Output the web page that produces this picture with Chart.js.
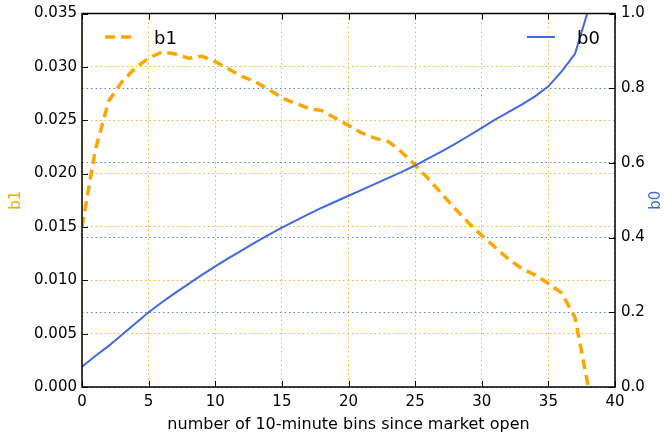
<!DOCTYPE html>
<html>
<head>
<meta charset="utf-8">
<script src="https://cdn.jsdelivr.net/npm/chart.js@4.4.0/dist/chart.umd.min.js"></script>
<style>
  body { margin: 0; background: #fff; }
  canvas { display: block; }
</style>
</head>
<body>
<canvas id="chart" width="664" height="438"></canvas>
<script>
// bins since market open
const bins = [0, 1, 2, 3, 4, 5, 6, 7, 8, 9, 10, 11, 12, 13, 14, 15, 16, 17, 18, 19,
  20, 21, 22, 23, 24, 25, 26, 27, 28, 29, 30, 31, 32, 33, 34, 35, 36, 37, 38];

// b1 (left axis)
const b1 = [0.0150, 0.0222, 0.0268, 0.0286, 0.0299, 0.0308, 0.0314, 0.0312, 0.0308, 0.0310,
  0.0305, 0.0298, 0.0291, 0.0286, 0.0279, 0.0271, 0.0266, 0.0261, 0.0259, 0.0252,
  0.0245, 0.0238, 0.0233, 0.0230, 0.0220, 0.0208, 0.0195, 0.0181, 0.0167, 0.0154,
  0.0142, 0.0131, 0.0120, 0.0111, 0.0105, 0.0097, 0.0088, 0.0065, 0.0000];

// b0 (right axis)
const b0 = [0.054, 0.083, 0.110, 0.140, 0.170, 0.200, 0.227, 0.252, 0.276, 0.300,
  0.323, 0.345, 0.366, 0.387, 0.407, 0.427, 0.445, 0.463, 0.480, 0.496,
  0.512, 0.528, 0.544, 0.560, 0.576, 0.593, 0.612, 0.631, 0.651, 0.672,
  0.694, 0.716, 0.736, 0.756, 0.778, 0.805, 0.845, 0.892, 1.010];

const xTicks = [0, 5, 10, 15, 20, 25, 30, 35, 40];
const b1Ticks = [0, 0.005, 0.010, 0.015, 0.020, 0.025, 0.030, 0.035];
const b0Ticks = [0, 0.2, 0.4, 0.6, 0.8, 1.0];

const ORANGE = '#FFA500';
const BLUE = '#4169E1';
const FONT = 'DejaVu Sans';

// frame, inner ticks, right title and the two legends
const extras = {
  id: 'extras',
  afterDraw(chart) {
    const ctx = chart.ctx;
    const a = chart.chartArea;
    const sx = chart.scales.x, sy = chart.scales.y, sy1 = chart.scales.y1;
    ctx.save();
    ctx.strokeStyle = '#000';
    ctx.lineWidth = 1;
    xTicks.forEach(v => {
      const px = Math.round(sx.getPixelForValue(v)) + 0.5;
      ctx.beginPath();
      ctx.moveTo(px, a.bottom); ctx.lineTo(px, a.bottom - 6);
      ctx.moveTo(px, a.top); ctx.lineTo(px, a.top + 6);
      ctx.stroke();
    });
    b1Ticks.forEach(v => {
      const py = Math.round(sy.getPixelForValue(v)) + 0.5;
      ctx.beginPath();
      ctx.moveTo(a.left, py); ctx.lineTo(a.left + 6, py);
      ctx.stroke();
    });
    b0Ticks.forEach(v => {
      const py = Math.round(sy1.getPixelForValue(v)) + 0.5;
      ctx.beginPath();
      ctx.moveTo(a.right, py); ctx.lineTo(a.right - 6, py);
      ctx.stroke();
    });
    ctx.lineWidth = 1.5;
    ctx.strokeRect(a.left, a.top, a.right - a.left, a.bottom - a.top);

    // right axis title
    ctx.fillStyle = BLUE;
    ctx.font = '15px "' + FONT + '"';
    ctx.textAlign = 'center';
    ctx.textBaseline = 'middle';
    ctx.translate(656, (a.top + a.bottom) / 2);
    ctx.rotate(-Math.PI / 2);
    ctx.fillText('b0', 0, 0);
    ctx.setTransform(1, 0, 0, 1, 0, 0);

    // legends
    ctx.lineWidth = 3.5;
    ctx.strokeStyle = ORANGE;
    ctx.setLineDash([10, 6]);
    ctx.beginPath();
    ctx.moveTo(105, 37); ctx.lineTo(134, 37);
    ctx.stroke();
    ctx.setLineDash([]);
    ctx.lineWidth = 2;
    ctx.strokeStyle = BLUE;
    ctx.beginPath();
    ctx.moveTo(527, 37); ctx.lineTo(555, 37);
    ctx.stroke();
    ctx.fillStyle = '#000';
    ctx.font = '18px "' + FONT + '"';
    ctx.textAlign = 'left';
    ctx.textBaseline = 'alphabetic';
    ctx.fillText('b1', 154, 44);
    ctx.fillText('b0', 577, 44);
    ctx.restore();
  }
};

const tickFont = { family: FONT, size: 15, lineHeight: 1 };

new Chart(document.getElementById('chart'), {
  type: 'line',
  data: {
    datasets: [
      {
        label: 'b1',
        data: bins.map((x, i) => ({ x: x, y: b1[i] })),
        yAxisID: 'y',
        borderColor: ORANGE,
        borderWidth: 3.5,
        borderDash: [10, 6],
        pointRadius: 0,
        tension: 0,
        order: 1
      },
      {
        label: 'b0',
        data: bins.map((x, i) => ({ x: x, y: b0[i] })),
        yAxisID: 'y1',
        borderColor: BLUE,
        borderWidth: 2,
        pointRadius: 0,
        tension: 0,
        order: 0
      }
    ]
  },
  options: {
    responsive: false,
    animation: false,
    layout: { padding: { top: 12 } },
    plugins: { legend: { display: false }, tooltip: { enabled: false } },
    scales: {
      x: {
        type: 'linear',
        min: 0, max: 40,
        afterFit: s => { s.height = 51; },
        afterBuildTicks: s => { s.ticks = xTicks.map(v => ({ value: v })); },
        ticks: { font: tickFont, color: '#000', padding: 8, maxRotation: 0 },
        grid: { color: 'rgba(255,165,0,0.85)', lineWidth: 1, drawTicks: false },
        border: { display: false, dash: [1.5, 3] },
        title: { display: true, text: 'number of 10-minute bins since market open',
          font: { family: FONT, size: 16 }, color: '#000', padding: { bottom: 4 } }
      },
      y: {
        position: 'left',
        min: 0, max: 0.035,
        afterFit: s => { s.width = 82; },
        afterBuildTicks: s => { s.ticks = b1Ticks.map(v => ({ value: v })); },
        ticks: { font: tickFont, color: '#000', padding: 5, callback: v => v.toFixed(3) },
        grid: { color: 'rgba(255,165,0,0.85)', lineWidth: 1, drawTicks: false },
        border: { display: false, dash: [1.5, 3] },
        title: { display: true, text: 'b1', color: ORANGE,
          font: { family: FONT, size: 15 }, padding: { top: 7 } }
      },
      y1: {
        position: 'right',
        min: 0, max: 1,
        afterFit: s => { s.width = 49; },
        afterBuildTicks: s => { s.ticks = b0Ticks.map(v => ({ value: v })); },
        ticks: { font: tickFont, color: '#000', padding: 6, callback: v => v.toFixed(1) },
        grid: { color: 'rgba(65,105,225,0.85)', lineWidth: 1, drawTicks: false },
        border: { display: false, dash: [1.5, 3] }
      }
    }
  },
  plugins: [extras]
});
</script>
</body>
</html>
